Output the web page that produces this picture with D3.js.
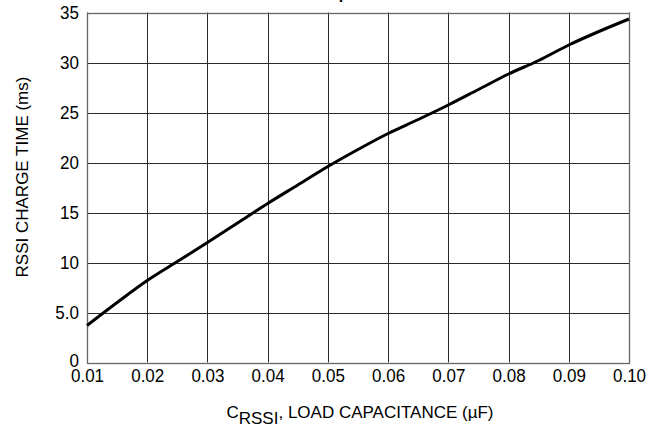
<!DOCTYPE html>
<html>
<head>
<meta charset="utf-8">
<script src="https://cdn.jsdelivr.net/npm/d3@7"></script>
<style>
  html, body { margin: 0; padding: 0; background: #fff; }
  svg { display: block; font-family: "Liberation Sans", Arial, Helvetica, sans-serif; }
</style>
</head>
<body>
<svg id="chart" width="660" height="426"></svg>
<script>
// ---- data ----
const capacitance = [0.01, 0.015, 0.02, 0.025, 0.03, 0.035, 0.04, 0.045, 0.05, 0.055, 0.06, 0.065, 0.07, 0.075, 0.08, 0.085, 0.09, 0.095, 0.10];
const chargeTime  = [3.7, 6.0, 8.2, 10.1, 12.0, 13.95, 15.9, 17.75, 19.6, 21.3, 22.9, 24.3, 25.75, 27.3, 28.85, 30.2, 31.75, 33.1, 34.35];
const xTicks = [0.01, 0.02, 0.03, 0.04, 0.05, 0.06, 0.07, 0.08, 0.09, 0.10];
const xTickLabels = ["0.01", "0.02", "0.03", "0.04", "0.05", "0.06", "0.07", "0.08", "0.09", "0.10"];
const yTicks = [0, 5, 10, 15, 20, 25, 30, 35];
const yTickLabels = ["0", "5.0", "10", "15", "20", "25", "30", "35"];
const titleText = "Response Time";
const yTitle = "RSSI CHARGE TIME (ms)";
const xTitleMain = "C";
const xTitleSub = "RSSI";
const xTitleRest = ", LOAD CAPACITANCE (\u00B5F)";

(function () {
// ---- layout ----
const svg = d3.select("#chart");
const pl = 87, pr = 629, pt = 12.5, pb = 362.5;
const x = d3.scaleLinear().domain([0.01, 0.10]).range([pl, pr]);
const y = d3.scaleLinear().domain([0, 35]).range([pb, pt]);

// title (clipped at top of the image)
svg.append("text")
  .attr("x", 309.5).attr("y", -1)
  .attr("font-size", 16).attr("font-weight", "bold")
  .attr("fill", "#000")
  .text(titleText);

// grid
const grid = svg.append("g");
grid.selectAll("line.v").data(xTicks).join("line")
  .attr("class", "v")
  .attr("x1", d => Math.round(x(d)) + 0.5).attr("x2", d => Math.round(x(d)) + 0.5)
  .attr("y1", pt).attr("y2", pb)
  .attr("stroke", "#2a2a2a").attr("stroke-width", 1);
grid.selectAll("line.h").data(yTicks).join("line")
  .attr("class", "h")
  .attr("y1", d => Math.round(y(d)) + 0.5).attr("y2", d => Math.round(y(d)) + 0.5)
  .attr("x1", pl).attr("x2", pr)
  .attr("stroke", "#2a2a2a").attr("stroke-width", 1);

// frame
svg.append("rect")
  .attr("x", pl + 0.5).attr("y", Math.round(pt) + 0.5)
  .attr("width", pr - pl).attr("height", Math.round(pb) - Math.round(pt))
  .attr("fill", "none").attr("stroke", "#666").attr("stroke-width", 1.3);

// axes via d3
const xAxis = d3.axisBottom(x).tickValues(xTicks).tickSize(0).tickPadding(6)
  .tickFormat((d, i) => xTickLabels[i]);
const gx = svg.append("g").attr("transform", `translate(0,${pb})`).call(xAxis);
gx.select(".domain").remove();
gx.selectAll("text").attr("font-size", 18.5).attr("fill", "#000")
  .attr("font-family", "Liberation Sans, Arial, sans-serif")
  .attr("transform", "scale(0.92,1)");

const yAxis = d3.axisLeft(y).tickValues(yTicks).tickSize(0).tickPadding(8)
  .tickFormat((d, i) => yTickLabels[i]);
const gy = svg.append("g").attr("transform", `translate(${pl},0)`).call(yAxis);
gy.select(".domain").remove();
gy.selectAll("text").attr("font-size", 18.5).attr("fill", "#000")
  .attr("font-family", "Liberation Sans, Arial, sans-serif")
  .attr("x", -8 / 0.92)
  .attr("transform", "scale(0.92,1)");
gy.selectAll(".tick").filter(d => d === 0).select("text").attr("dy", "0.22em");

// curve
const pts = capacitance.map((c, i) => [c, chargeTime[i]]);
svg.append("path")
  .datum(pts)
  .attr("fill", "none").attr("stroke", "#000").attr("stroke-width", 3)
  .attr("d", d3.line().x(d => x(d[0])).y(d => y(d[1])).curve(d3.curveMonotoneX));

// y title
svg.append("text")
  .attr("transform", `translate(28,177) rotate(-90)`)
  .attr("text-anchor", "middle")
  .attr("font-size", 17).attr("fill", "#000")
  .text(yTitle);

// x title with subscript
const xt = svg.append("text")
  .attr("x", 360).attr("y", 418)
  .attr("text-anchor", "middle")
  .attr("font-size", 17).attr("fill", "#000");
xt.append("tspan").text(xTitleMain);
xt.append("tspan").attr("dy", 5.5).text(xTitleSub);
xt.append("tspan").attr("dy", -5.5).text(xTitleRest);
})();
</script>
</body>
</html>
